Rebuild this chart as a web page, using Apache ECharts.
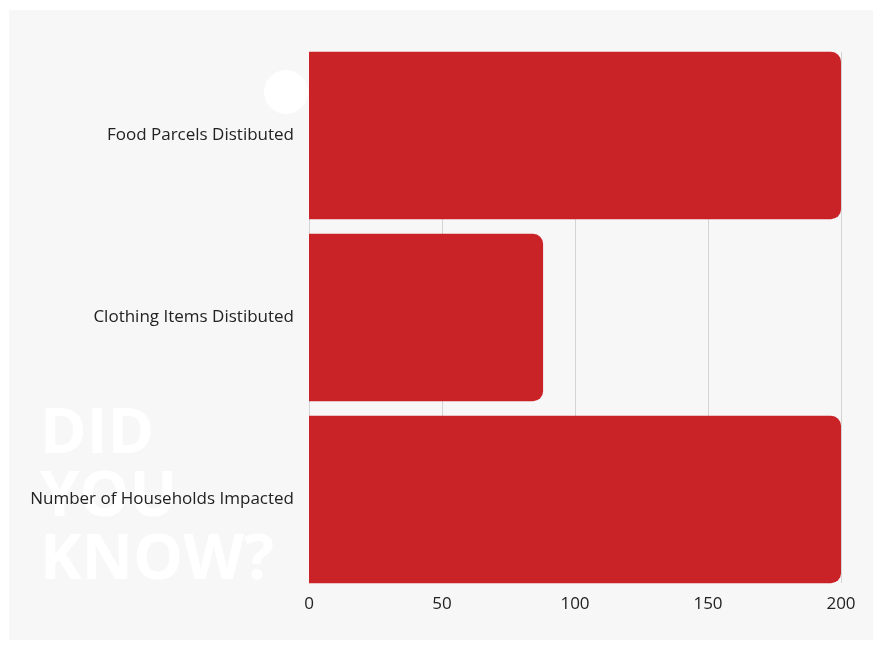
<!DOCTYPE html>
<html><head><meta charset="utf-8">
<script src="https://cdn.jsdelivr.net/npm/echarts@6/dist/echarts.min.js"></script>
<style>html,body{margin:0;padding:0;background:#fff}#c{width:880px;height:648px}</style>
</head><body><div id="c"></div>
<script>
const categories = ["Food Parcels Distibuted", "Clothing Items Distibuted", "Number of Households Impacted"];
const values = [200, 88, 200];
const xTicks = [0, 50, 100, 150, 200];

const chart = echarts.init(document.getElementById('c'), null, {renderer: 'canvas'});
chart.setOption({
  backgroundColor: '#ffffff',
  animation: false,
  graphic: [
    {type: 'rect', z: -10, shape: {x: 9, y: 10, width: 864, height: 630}, style: {fill: '#f7f7f7'}},
    {type: 'circle', z: -5, shape: {cx: 286, cy: 92, r: 22}, style: {fill: '#ffffff'}},
    {type: 'text', z: -5, left: 40, top: 404, style: {text: 'DID\nYOU\nKNOW?', fill: '#ffffff', font: 'bold 63px "Open Sans", sans-serif', lineHeight: 63}}
  ],
  grid: [
    {left: 309, right: 39, top: 44.5, bottom: 57.5, containLabel: false},
    {left: 309, right: 39, top: 52, bottom: 65, containLabel: false}
  ],
  xAxis: [{
    gridIndex: 0, type: 'value', min: 0, max: 200, interval: 50,
    axisLine: {show: false}, axisTick: {show: false},
    splitLine: {show: false}, axisLabel: {show: false}
  }, {
    gridIndex: 1, type: 'value', min: 0, max: 200, interval: 50,
    axisLine: {show: false}, axisTick: {show: false},
    splitLine: {show: true, lineStyle: {color: '#d4d4d4', width: 1}},
    axisLabel: {color: '#222', fontSize: 17, fontFamily: '"Open Sans", sans-serif', margin: 13,
      formatter: v => xTicks.includes(v) ? String(v) : ''}
  }],
  yAxis: [{
    gridIndex: 0, type: 'category', data: categories, inverse: true,
    axisLine: {show: false}, axisTick: {show: false},
    axisLabel: {color: '#222', fontSize: 17, fontFamily: '"Open Sans", sans-serif', margin: 15, padding: [4, 0, 0, 0]}
  }, {
    gridIndex: 1, type: 'value', show: false
  }],
  series: [{
    type: 'bar', xAxisIndex: 0, yAxisIndex: 0, data: values, barCategoryGap: '8%',
    itemStyle: {color: '#c92227', borderRadius: [0, 10, 10, 0]}
  }]
});
</script></body></html>
